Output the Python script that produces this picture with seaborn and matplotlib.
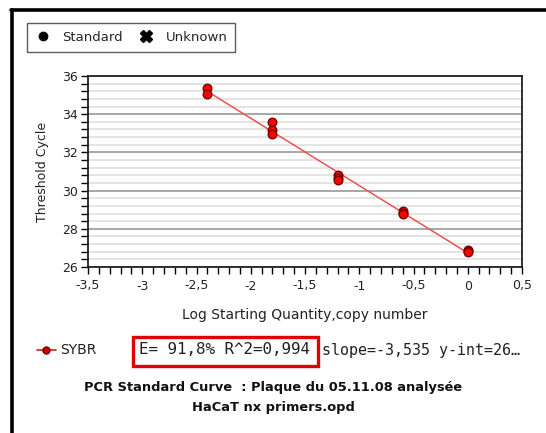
import numpy as np
import pandas as pd
import matplotlib
matplotlib.use("Agg")
import matplotlib.pyplot as plt
from matplotlib.ticker import MultipleLocator, FuncFormatter
from matplotlib.lines import Line2D
from matplotlib.patches import Rectangle
import seaborn as sns

# standard curve data (log starting quantity vs threshold cycle)
log_qty = [-2.4, -2.4, -1.8, -1.8, -1.8, -1.2, -1.2, -1.2, -0.6, -0.6, -0.6, 0.0, 0.0, 0.0]
ct = [35.37, 35.07, 33.6, 33.15, 32.98, 30.8, 30.68, 30.58, 28.95, 28.85, 28.8, 26.9, 26.82, 26.76]

series_name = "SYBR"
stats_boxed = "E= 91,8% R^2=0,994"
stats_rest = "slope=-3,535 y-int=26…"
title_lines = ["PCR Standard Curve  : Plaque du 05.11.08 analysée", "HaCaT nx primers.opd"]

df = pd.DataFrame({"x": log_qty, "y": ct})

sns.set_style("white")
plt.rcParams['font.family'] = ['DejaVu Sans']

fig = plt.figure(figsize=(5.46, 4.33), dpi=100)
W, H = 546, 433
ax = fig.add_axes([88 / W, 1 - 267 / H, (522 - 88) / W, (267 - 76) / H])

# grid
ax.set_xlim(-3.5, 0.5)
ax.set_ylim(26, 36)
ax.yaxis.set_major_locator(MultipleLocator(2))
ax.yaxis.set_minor_locator(MultipleLocator(0.4))
ax.xaxis.set_major_locator(MultipleLocator(0.5))
ax.xaxis.set_minor_locator(MultipleLocator(0.1))
ax.grid(axis="y", which="minor", color="#dcdcdc", lw=1.1)
ax.grid(axis="y", which="major", color="#a0a0a0", lw=1.3)
ax.set_axisbelow(True)

# fitted line and points
sns.regplot(data=df, x="x", y="y", ax=ax, scatter=False, ci=None,
            line_kws={"color": "#f05050", "lw": 1.1})
sns.scatterplot(data=df, x="x", y="y", ax=ax, color="#ff0000", edgecolor="#7a0000",
                linewidth=1.0, s=38, zorder=5)

fmt = FuncFormatter(lambda v, p: ("%g" % v).replace(".", ","))
ax.xaxis.set_major_formatter(fmt)
ax.yaxis.set_major_formatter(fmt)
ax.tick_params(axis="both", which="both", direction="out", length=5, width=1,
               color="black", labelsize=9, labelcolor="#222222", pad=2)
ax.tick_params(axis="x", which="both", bottom=True)
ax.tick_params(axis="y", which="both", left=True)
ax.tick_params(axis="x", which="major", pad=4)
for s in ax.spines.values():
    s.set_color("#222222")
    s.set_linewidth(1.3)

ax.set_xlabel("Log Starting Quantity,copy number", fontsize=10, color="#222222", labelpad=11)
ax.set_ylabel("Threshold Cycle", fontsize=9, color="#222222", labelpad=10)

# top legend
handles = [Line2D([], [], marker="o", ls="none", color="black", markersize=6),
           Line2D([], [], marker="X", ls="none", color="black", markersize=8)]
leg = fig.legend(handles, ["Standard", "Unknown"], loc="upper left",
                 bbox_to_anchor=(27 / W, 1 - 23 / H), borderaxespad=0, ncol=2, frameon=True,
                 fancybox=False, edgecolor="#333333", fontsize=9.5, handletextpad=0.8,
                 columnspacing=1.1, borderpad=0.6, handlelength=1.3)
leg.get_frame().set_linewidth(1.0)

# series legend and statistics
fig.add_artist(Line2D([37 / W, 56 / W], [1 - 350 / H] * 2, color="#d02020", lw=1.2))
fig.add_artist(Line2D([46 / W], [1 - 350 / H], marker="o", color="#d00000",
                      markeredgecolor="#700000", markersize=5))
fig.text(60 / W, 1 - 350 / H, series_name, fontsize=10, va="center", color="#222222")
fig.text(139 / W, 1 - 350 / H, stats_boxed, fontsize=11.4, va="center",
         family="DejaVu Sans Mono", color="#222222")
fig.text(322 / W, 1 - 350 / H, stats_rest, fontsize=10.8, va="center",
         family="DejaVu Sans Mono", color="#222222")
fig.add_artist(Rectangle((133 / W, 1 - 366 / H), (318 - 133) / W, (366 - 337) / H,
                         fill=False, edgecolor="#e00000", lw=2.4))

fig.text(0.5, 1 - 388 / H, title_lines[0], ha="center", va="center",
         fontsize=9.4, fontweight="bold", color="#111111")
fig.text(0.5, 1 - 408 / H, title_lines[1], ha="center", va="center",
         fontsize=9.4, fontweight="bold", color="#111111")

# outer frame (top and left edges)
fig.add_artist(Line2D([11 / W, 1], [1 - 9.5 / H] * 2, color="black", lw=2.6))
fig.add_artist(Line2D([12 / W] * 2, [0, 1 - 9.5 / H], color="black", lw=2.6))

fig.savefig("out.png", dpi=100)
